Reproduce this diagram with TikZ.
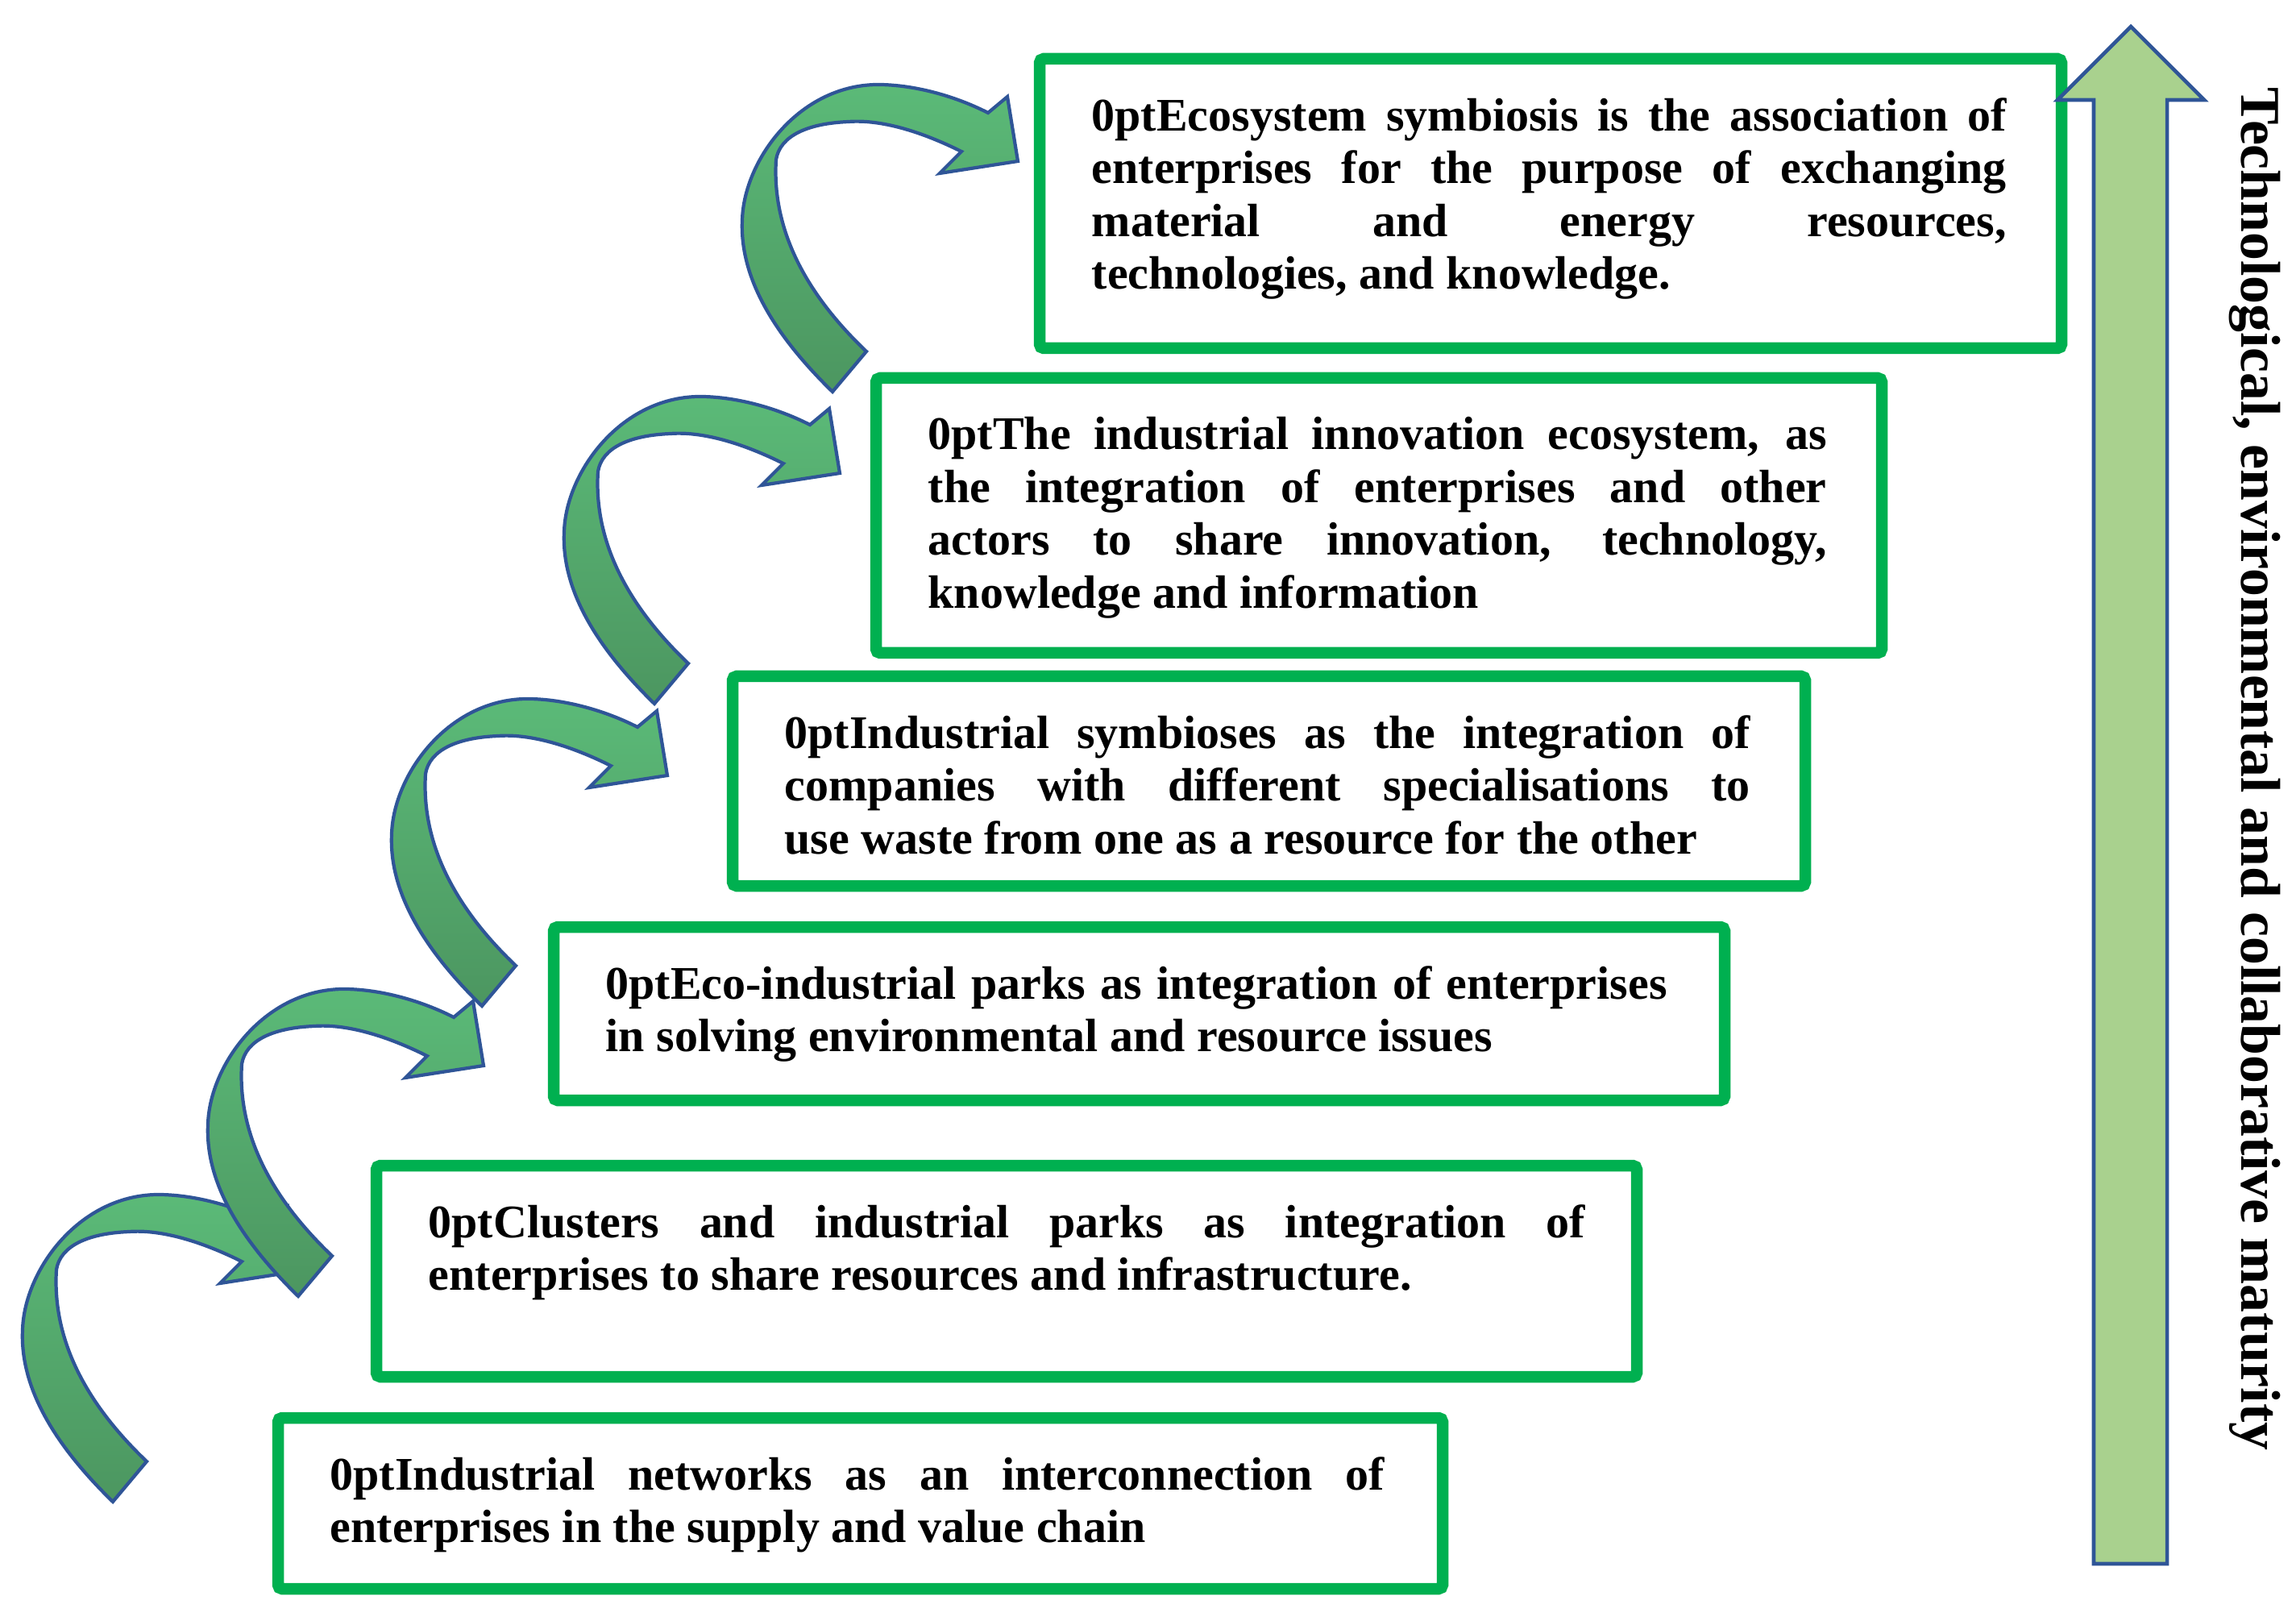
\documentclass[tikz,border=0pt]{standalone}
\usepackage{fontspec}
\setmainfont{Liberation Serif}
\usetikzlibrary{positioning}
\definecolor{boxgreen}{RGB}{0,176,80}
\definecolor{arrowblue}{RGB}{47,85,151}
\definecolor{lightg}{RGB}{91,186,120}
\definecolor{darkg}{RGB}{76,150,96}
\definecolor{bigarrow}{RGB}{169,209,142}
\tikzset{
  stagebox/.style={draw=boxgreen,line width=0.145cm,rounded corners=0.05cm,fill=white},
  stagetext/.style={anchor=north west,inner sep=0pt,align=justify,font=\fontsize{16.5}{18.6}\selectfont\bfseries\hyphenpenalty=10000\relax\exhyphenpenalty=10000\relax},
  curvarrow/.style={draw=arrowblue,line width=1.2pt,top color=lightg,bottom color=darkg,line join=miter},
}
\newcommand{\curvedarrow}[2]{%
  \path[curvarrow,shift={(#1,#2)}]
   (1.40,1.42) .. controls (0.6,2.2) and (0.25,2.9) .. (0.28,3.55)
   .. controls (0.3,4.3) and (1.0,5.25) .. (2.0,5.23)
   .. controls (2.5,5.22) and (3.0,5.05) .. (3.33,4.88)
   -- (3.57,5.08) -- (3.70,4.28) -- (2.73,4.13) -- (3.00,4.40)
   .. controls (2.5,4.65) and (2.0,4.8) .. (1.60,4.77)
   .. controls (1.1,4.75) and (0.75,4.6) .. (0.70,4.3)
   .. controls (0.65,3.5) and (1.0,2.7) .. (1.82,1.92) -- cycle;}
\begin{document}
\begin{tikzpicture}[x=1cm,y=1cm]
\useasboundingbox (0,0) rectangle (28.49,20.05);
% curved arrows (bottom to top)
\curvedarrow{0}{0}
\curvedarrow{2.30}{2.55}
\curvedarrow{4.58}{6.15}
\curvedarrow{6.72}{9.90}
\curvedarrow{8.93}{13.77}
% stage boxes
\draw[stagebox] (3.45,0.34) rectangle (17.90,2.46);
\node[stagetext,text width=13.08cm] (t6) at (4.09,1.98) {Industrial networks as an interconnection of\linebreak enterprises in the supply and value chain};
\draw[stagebox] (4.67,2.97) rectangle (20.31,5.59);
\node[stagetext,text width=14.35cm] (t5) at (5.31,5.11) {Clusters and industrial parks as integration of\linebreak enterprises to share resources and infrastructure.};
\draw[stagebox] (6.87,6.40) rectangle (21.40,8.55);
\node[stagetext,text width=13.17cm] (t4) at (7.51,8.07) {Eco-industrial parks as integration of enterprises\linebreak in solving environmental and resource issues};
\draw[stagebox] (9.09,9.06) rectangle (22.40,11.66);
\node[stagetext,text width=11.98cm] (t3) at (9.73,11.18) {Industrial symbioses as the integration of\linebreak companies with different specialisations to\linebreak use waste from one as a resource for the other};
\draw[stagebox] (10.87,11.95) rectangle (23.35,15.36);
\node[stagetext,text width=11.15cm] (t2) at (11.51,14.88) {The industrial innovation ecosystem, as\linebreak the integration of enterprises and other\linebreak actors to share innovation, technology,\linebreak knowledge and information};
\draw[stagebox] (12.90,15.73) rectangle (25.58,19.32);
\node[stagetext,text width=11.35cm] (t1) at (13.54,18.84) {Ecosystem symbiosis is the association of\linebreak enterprises for the purpose of exchanging\linebreak material and energy resources,\linebreak technologies, and knowledge.};
% big arrow
\path[draw=arrowblue,line width=1.3pt,fill=bigarrow]
 (25.98,0.65) -- (26.89,0.65) -- (26.89,18.81) -- (27.35,18.81)
 -- (26.44,19.72) -- (25.53,18.81) -- (25.98,18.81) -- cycle;
\node[rotate=-90,inner sep=0pt] (lbl) at (27.98,10.51)
 {\resizebox{16.9cm}{!}{\bfseries Technological, environmental and collaborative maturity}};
\end{tikzpicture}
\end{document}
